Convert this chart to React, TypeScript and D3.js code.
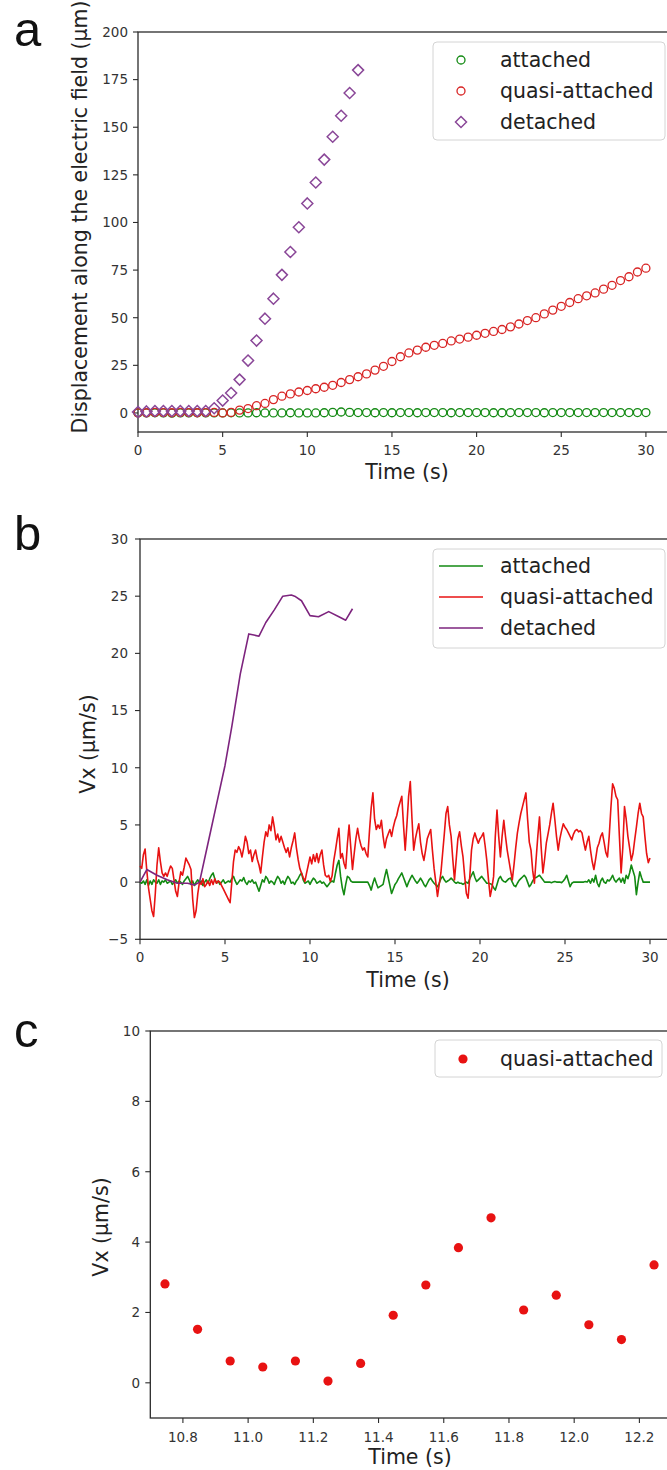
import React from "react";
import * as d3 from "d3";

// ---------- Panel a: displacement ----------
const timeA = [0,0.5,1,1.5,2,2.5,3,3.5,4,4.5,5,5.5,6,6.5,7,7.5,8,8.5,9,9.5,10,10.5,11,11.5,12,12.5,13,13.5,14,14.5,15,15.5,16,16.5,17,17.5,18,18.5,19,19.5,20,20.5,21,21.5,22,22.5,23,23.5,24,24.5,25,25.5,26,26.5,27,27.5,28,28.5,29,29.5,30];
const attachedA = [0,0,0.1,0,-0.1,0,0,0.1,0,0, 0,0.1,0,0,0.1,0,0,0,0.1,0, 0,0,0.1,0.3,0.5,0.3,0.2,0.2,0.1,0.2, 0.1,0.2,0.2,0.1,0.2,0.2,0.2,0.1,0.2,0.2, 0.2,0.2,0.1,0.1,0.2,0.2,0.2,0.2,0.1,0.2, 0.2,0.2,0.2,0.2,0.2,0.2,0.2,0.2,0.2,0.2, 0.2];
const quasiA = [0,0.1,0.3,0.2,0.1,0.3,0.2,0.1,0.2,0.3, 0,0.3,1.5,2.3,3.8,5,7,8.8,10,11, 11.8,12.7,13.5,14.5,16,17.5,19,20.5,22.5,24.5, 27,29.5,31.5,33,34.5,35.5,36.5,37.8,38.8,39.8, 40.8,41.8,42.8,43.8,45.2,46.7,48.5,50,52,54, 56,58,60,61.5,63,65,67,69.5,71.5,74, 76];
const timeDetA = [0,0.5,1,1.5,2,2.5,3,3.5,4,4.5,5,5.5,6,6.5,7,7.5,8,8.5,9,9.5,10,10.5,11,11.5,12,12.5,13];
const detachedA = [0.5,0.8,1,1,1,1,1,1,1,2.5,6.5,10.5,17.5,27.5,38,49.5,60,72.5,84.5,97.5,110,121,133,145,156,168,180];
const yTicksA = [0,25,50,75,100,125,150,175,200];
const xTicksA = [0,5,10,15,20,25,30];

// ---------- Panel b: velocity (0.1 s sampling, rows = 1 s) ----------
const B_STEP = 0.1;
const quasiB = [
  1.4,1.2,2.4,2.9,1.0,-0.5,-1.5,-2.5,-3.0,-1.0,
  1.5,3.0,1.8,0.8,0.5,0.8,0.5,1.0,1.4,1.2,
  0.2,-0.8,-1.25,0.0,0.9,0.6,1.3,2.1,1.8,1.5,
  1.1,-1.5,-3.1,-2.5,-1.0,0.0,-0.2,0.3,-0.4,-0.2,
  0.1,-0.3,0.2,-0.2,0.3,-0.1,0.1,0.0,-0.3,-0.6,
  -0.9,-1.2,-1.5,-1.8,0.0,1.8,2.8,2.6,3.1,2.8,
  2.2,3.0,4.0,3.5,2.5,2.8,1.8,2.4,2.8,2.0,
  1.5,0.8,2.2,3.5,4.4,4.0,5.0,4.5,5.7,4.8,
  3.7,4.2,3.5,4.0,3.5,3.0,2.6,3.0,2.2,3.0,
  3.6,4.3,3.0,2.0,1.2,0.8,0.4,0.06,0.8,1.5,
  2.2,1.6,2.4,1.8,2.5,1.7,2.4,2.8,1.5,0.6,
  0.45,0.6,0.05,0.55,1.9,2.8,3.8,4.7,2.1,2.5,
  1.65,1.2,3.35,5.0,3.0,1.1,2.5,3.8,4.7,3.8,
  3.2,2.8,3.0,2.5,2.2,4.5,6.5,7.8,5.5,4.6,
  5.0,4.7,5.4,4.0,3.0,3.8,4.2,4.6,4.0,4.8,
  5.4,5.8,6.5,7.0,7.5,5.0,2.8,5.0,7.5,8.8,
  5.5,2.8,3.8,4.5,5.1,3.5,2.5,1.9,2.8,3.8,
  4.2,4.6,2.8,1.2,0.0,-1.25,-0.2,0.8,2.5,4.2,
  6.0,6.6,5.0,4.0,2.0,0.2,2.0,3.8,4.4,3.2,
  2.2,0.5,-1.0,-1.4,0.5,2.8,3.8,4.3,3.8,3.4,
  3.8,4.0,4.3,3.2,1.9,0.2,-1.25,-0.5,0.5,4.0,
  6.3,4.0,2.2,4.0,5.4,4.0,2.8,1.9,1.0,0.2,
  1.5,3.0,4.3,5.2,6.0,6.6,7.2,7.8,5.5,3.5,
  2.8,1.0,-0.1,2.0,4.0,5.7,3.0,0.8,2.0,3.4,
  4.2,5.0,6.0,6.9,5.5,4.0,2.8,3.8,4.5,5.1,
  4.8,4.6,4.3,4.0,3.7,4.2,4.5,4.6,4.4,4.5,
  4.3,3.5,2.8,3.5,4.0,2.8,1.8,1.1,2.0,3.0,
  3.4,4.0,4.3,3.5,2.6,2.2,4.0,6.5,8.6,8.2,
  7.5,7.2,4.0,0.8,3.0,6.6,5.5,4.0,3.0,1.9,
  2.5,3.7,4.8,6.0,6.9,6.0,5.7,4.0,2.5,1.7,
  2.1
];
const attachedB = [
  0.0,-0.1,0.1,-0.2,0.2,-0.3,0.1,-0.2,0.2,0.0,
  -0.1,0.2,-0.2,0.1,0.0,0.2,-0.1,0.0,0.1,-0.2,
  0.0,0.2,-0.1,0.1,0.0,-0.2,0.1,0.3,0.5,0.2,
  -0.2,0.1,-0.3,0.0,0.2,-0.1,0.1,-0.3,0.0,0.2,
  -0.1,0.3,0.6,0.8,0.3,-0.1,0.1,-0.2,0.0,0.2,
  -0.1,0.0,0.1,0.0,0.3,0.5,0.1,-0.2,0.0,0.2,
  0.1,0.4,0.0,-0.2,0.1,0.0,0.2,-0.1,0.0,-0.4,
  -0.8,-0.3,0.2,0.0,0.5,0.3,-0.1,0.1,0.0,-0.2,
  0.2,0.5,0.3,-0.1,0.1,-0.2,0.2,0.5,0.3,-0.1,
  0.0,-0.2,0.1,0.3,0.6,0.8,0.2,-0.1,0.0,0.1,
  -0.2,0.1,0.35,0.2,-0.1,0.0,0.1,-0.1,0.0,-0.2,
  -0.4,-0.2,0.0,0.1,0.0,0.8,1.5,1.9,0.5,-0.5,
  -1.1,-0.2,0.5,0.4,0.1,0.0,0.0,0.0,0.0,0.0,
  0.0,0.0,0.0,0.0,0.0,-0.3,-0.7,-0.1,0.35,-0.1,
  -0.5,-0.4,-0.3,-0.2,0.5,1.1,0.4,-0.3,-1.0,-0.6,
  -0.2,0.0,0.3,0.55,0.8,0.4,0.0,-0.4,0.0,0.3,
  0.6,0.35,0.1,-0.1,0.1,0.35,0.1,-0.2,-0.4,-0.1,
  0.2,0.35,0.1,-0.1,-0.25,-0.4,-0.1,0.3,0.5,0.2,
  0.0,0.1,0.2,0.35,0.2,0.0,-0.1,0.0,-0.1,-0.1,
  -0.2,-0.1,0.0,-0.1,0.3,0.6,0.9,0.4,0.05,0.2,
  0.35,0.5,0.3,0.1,-0.1,-0.1,-0.15,-0.2,-0.5,-0.7,
  -0.2,0.3,0.5,0.2,0.05,0.0,0.15,0.3,0.35,0.0,
  -0.3,-0.4,-0.1,0.15,0.3,0.45,0.6,0.4,0.0,-0.4,
  -0.2,0.1,0.35,0.4,0.5,0.6,0.4,0.2,0.0,0.0,
  0.0,0.0,-0.05,0.0,0.05,0.0,0.0,0.0,-0.05,0.1,
  0.3,0.6,0.1,-0.4,-0.1,0.0,0.0,0.0,0.0,0.0,
  0.0,0.0,0.05,0.0,0.2,-0.1,0.3,0.0,0.6,-0.1,
  -0.4,0.1,0.35,0.0,-0.1,0.2,0.1,0.3,0.6,0.2,
  0.0,0.2,0.35,0.0,0.35,-0.1,0.6,0.3,0.8,1.5,
  1.0,0.5,-1.1,0.0,0.9,0.4,0.0,0.0,0.0,0.0,
  0.0
];
const timeDetB = [0,0.4,1.0,1.6,2.2,2.8,3.2,3.5,4.0,4.5,5.0,5.4,5.9,6.4,6.7,7.0,7.4,7.9,8.4,8.9,9.1,9.5,10.0,10.5,11.1,11.7,12.1,12.5];
const detachedB = [0.0,1.1,0.6,0.2,-0.1,-0.1,-0.25,0.0,3.4,6.8,10.2,13.6,18.2,21.7,21.6,21.5,22.7,23.8,25.0,25.1,25.0,24.6,23.3,23.2,23.65,23.2,22.9,23.9];
const yTicksB = [-5,0,5,10,15,20,25,30];
const xTicksB = [0,5,10,15,20,25,30];

// ---------- Panel c: zoom on quasi-attached ----------
const timeC = [10.745,10.845,10.945,11.045,11.145,11.245,11.345,11.445,11.545,11.645,11.745,11.845,11.945,12.045,12.145,12.245];
const quasiC = [2.81,1.52,0.62,0.45,0.62,0.05,0.55,1.92,2.78,3.84,4.69,2.07,2.49,1.65,1.23,3.35];
const yTicksC = [0,2,4,6,8,10];
const xTicksC = [10.8,11.0,11.2,11.4,11.6,11.8,12.0,12.2];

const FONT = "'DejaVu Sans', Verdana, sans-serif";
const TICK_COLOR = "#333";
const SPINE = "#2b2b2b";
const C_GREEN = "#138a13";
const C_RED = "#e81212";
const C_RED_MARK = "#d82424";
const C_PURPLE = "#7d247e";
const C_PURPLE_MARK = "#8a4798";

type AxesProps = {
  x: d3.ScaleLinear<number, number>;
  y: d3.ScaleLinear<number, number>;
  xTicks: number[];
  yTicks: number[];
  xFmt: (v: number) => string;
  yFmt: (v: number) => string;
  xTickBaseline: number;
  yTickRight: number;
};

function Axes({ x, y, xTicks, yTicks, xFmt, yFmt, xTickBaseline, yTickRight }: AxesProps) {
  const [x0, x1] = x.range();
  const [y0, y1] = y.range();
  return (
    <g>
      <rect x={x0} y={y1} width={x1 - x0} height={y0 - y1} fill="none" stroke={SPINE} strokeWidth={1.3} />
      {xTicks.map((t) => (
        <g key={"x" + t}>
          <line x1={x(t)} x2={x(t)} y1={y0} y2={y0 + 5} stroke={SPINE} strokeWidth={1.1} />
          <text x={x(t)} y={xTickBaseline} textAnchor="middle" fontSize={13.5} fill={TICK_COLOR} fontFamily={FONT}>
            {xFmt(t)}
          </text>
        </g>
      ))}
      {yTicks.map((t) => (
        <g key={"y" + t}>
          <line x1={x0 - 5} x2={x0} y1={y(t)} y2={y(t)} stroke={SPINE} strokeWidth={1.1} />
          <text x={yTickRight} y={y(t)} dy="0.36em" textAnchor="end" fontSize={13.5} fill={TICK_COLOR} fontFamily={FONT}>
            {yFmt(t)}
          </text>
        </g>
      ))}
    </g>
  );
}

const fmtInt = (v: number) => (v < 0 ? "\u2212" + Math.abs(v) : String(v));
const fmt1 = (v: number) => v.toFixed(1);

export default function App() {
  const W = 667;
  const H = 1470;

  const xA = d3.scaleLinear().domain([0, 31.6]).range([138, 673]);
  const yA = d3.scaleLinear().domain([-10, 200]).range([432, 32]);
  const xB = d3.scaleLinear().domain([0, 31.6]).range([140, 677.2]);
  const yB = d3.scaleLinear().domain([-5, 30]).range([939.3, 539]);
  const xC = d3.scaleLinear().domain([10.7, 12.3]).range([150.3, 672]);
  const yC = d3.scaleLinear().domain([-1, 10]).range([1418, 1031]);

  const lineB = d3
    .line<[number, number]>()
    .x((d) => xB(d[0]))
    .y((d) => yB(d[1]));

  const quasiBPts: [number, number][] = quasiB.map((v, i) => [i * B_STEP, v]);
  const attachedBPts: [number, number][] = attachedB.map((v, i) => [i * B_STEP, v]);
  const detachedBPts: [number, number][] = detachedB.map((v, i) => [timeDetB[i], v]);

  const diamond = (cx: number, cy: number, r: number) =>
    `M${cx},${cy - r}L${cx + r},${cy}L${cx},${cy + r}L${cx - r},${cy}Z`;

  const legendLabels = ["attached", "quasi-attached", "detached"];
  const legendLineColors = [C_GREEN, C_RED, C_PURPLE];
  const legendMarkColors = [C_GREEN, C_RED_MARK, C_PURPLE_MARK];
  const LETTER_FONT = "'Liberation Sans', Arial, sans-serif";

  return (
    <svg
      width={W}
      height={H}
      style={{ position: "absolute", left: 0, top: 0, background: "#fff" }}
      fontFamily={FONT}
    >
      <rect x={0} y={0} width={W} height={H} fill="#fff" />

      {/* ---------------- Panel a ---------------- */}
      <text x={14} y={46} fontSize={49} fontFamily={LETTER_FONT} fill="#111">a</text>
      <Axes x={xA} y={yA} xTicks={xTicksA} yTicks={yTicksA} xFmt={fmtInt} yFmt={fmtInt} xTickBaseline={455} yTickRight={128} />
      <g fill="none" strokeWidth={1.3}>
        {attachedA.map((v, i) => (
          <circle key={"ga" + i} cx={xA(timeA[i])} cy={yA(v)} r={4} stroke={C_GREEN} />
        ))}
        {quasiA.map((v, i) => (
          <circle key={"ra" + i} cx={xA(timeA[i])} cy={yA(v)} r={4} stroke={C_RED_MARK} />
        ))}
        {detachedA.map((v, i) => (
          <path key={"pa" + i} d={diamond(xA(timeDetA[i]), yA(v), 5.5)} stroke={C_PURPLE_MARK} strokeWidth={1.5} />
        ))}
      </g>
      <text x={407} y={479} textAnchor="middle" fontSize={20.5} fill="#222">Time (s)</text>
      <text transform="translate(87,217) rotate(-90)" textAnchor="middle" fontSize={20.5} fill="#222">
        Displacement along the electric field (μm)
      </text>
      <rect x={433} y={42} width={232} height={98} rx={4} fill="#fff" fillOpacity={0.85} stroke="#d4d4d4" />
      {legendLabels.map((lab, i) => {
        const cy = 60 + i * 31;
        return (
          <g key={"la" + i}>
            {i < 2 ? (
              <circle cx={461} cy={cy} r={4} fill="none" stroke={legendMarkColors[i]} strokeWidth={1.3} />
            ) : (
              <path d={diamond(461, cy, 5.5)} fill="none" stroke={C_PURPLE_MARK} strokeWidth={1.5} />
            )}
            <text x={500} y={cy + 7} fontSize={20.5} fill="#222">{lab}</text>
          </g>
        );
      })}

      {/* ---------------- Panel b ---------------- */}
      <text x={14} y={550} fontSize={49} fontFamily={LETTER_FONT} fill="#111">b</text>
      <Axes x={xB} y={yB} xTicks={xTicksB} yTicks={yTicksB} xFmt={fmtInt} yFmt={fmtInt} xTickBaseline={962} yTickRight={128} />
      <path d={lineB(attachedBPts) || ""} fill="none" stroke={C_GREEN} strokeWidth={1.6} strokeLinejoin="round" />
      <path d={lineB(quasiBPts) || ""} fill="none" stroke={C_RED} strokeWidth={1.6} strokeLinejoin="round" />
      <path d={lineB(detachedBPts) || ""} fill="none" stroke={C_PURPLE} strokeWidth={1.6} strokeLinejoin="round" />
      <text x={408} y={987} textAnchor="middle" fontSize={20.5} fill="#222">Time (s)</text>
      <text transform="translate(95,744) rotate(-90)" textAnchor="middle" fontSize={20.5} fill="#222">
        Vx (μm/s)
      </text>
      <rect x={433} y={549} width={232} height={99} rx={4} fill="#fff" fillOpacity={0.85} stroke="#d4d4d4" />
      {legendLabels.map((lab, i) => {
        const cy = 566 + i * 31;
        return (
          <g key={"lb" + i}>
            <line x1={439} x2={483} y1={cy} y2={cy} stroke={legendLineColors[i]} strokeWidth={1.6} />
            <text x={500} y={cy + 7} fontSize={20.5} fill="#222">{lab}</text>
          </g>
        );
      })}

      {/* ---------------- Panel c ---------------- */}
      <text x={14} y={1047} fontSize={49} fontFamily={LETTER_FONT} fill="#111">c</text>
      <Axes x={xC} y={yC} xTicks={xTicksC} yTicks={yTicksC} xFmt={fmt1} yFmt={fmtInt} xTickBaseline={1442} yTickRight={140} />
      {quasiC.map((v, i) => (
        <circle key={"rc" + i} cx={xC(timeC[i])} cy={yC(v)} r={4.6} fill={C_RED} />
      ))}
      <text x={410} y={1464} textAnchor="middle" fontSize={20.5} fill="#222">Time (s)</text>
      <text transform="translate(108,1227) rotate(-90)" textAnchor="middle" fontSize={20.5} fill="#222">
        Vx (μm/s)
      </text>
      <rect x={435} y={1040} width={227} height={37} rx={4} fill="#fff" fillOpacity={0.85} stroke="#d4d4d4" />
      <circle cx={463} cy={1059} r={4.6} fill={C_RED} />
      <text x={500} y={1066} fontSize={20.5} fill="#222">quasi-attached</text>
    </svg>
  );
}
